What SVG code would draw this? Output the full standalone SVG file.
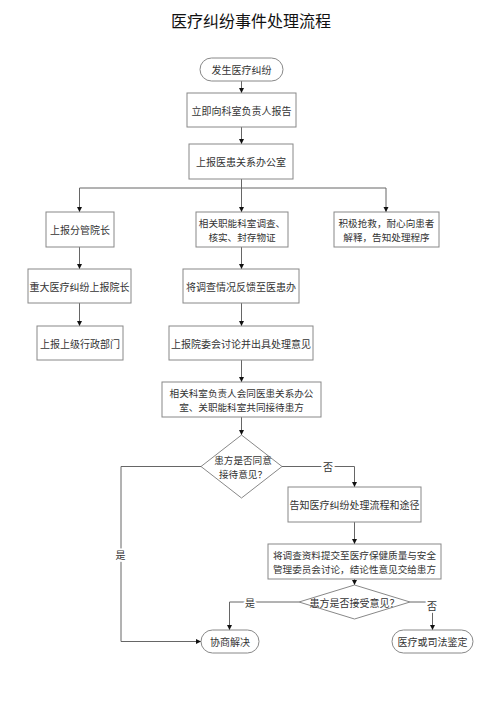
<svg xmlns="http://www.w3.org/2000/svg" width="500" height="707" viewBox="0 0 500 707">
<style>
text{font-family:"Noto Sans CJK SC","Noto Sans CJK JP",sans-serif;fill:#333;font-size:10px;text-anchor:middle;dominant-baseline:central}
text.two{font-size:9.6px}
.title{font-size:16px;fill:#111}
.box{fill:#fff;stroke:#888;stroke-width:1}
.ln{fill:none;stroke:#666;stroke-width:1}
.lbl{stroke:#fff;stroke-width:4;paint-order:stroke;stroke-linejoin:round}
</style>
<defs>
<marker id="ah" markerUnits="userSpaceOnUse" markerWidth="6" markerHeight="6" refX="5" refY="3" orient="auto">
<path d="M0,0.5 L5,3 L0,5.5 Z" fill="#111"/>
</marker>
</defs>
<rect width="500" height="707" fill="#fff"/>
<text class="title" x="251" y="20">医疗纠纷事件处理流程</text>

<g id="connectors">
<path class="ln" d="M241.5,81 V93" marker-end="url(#ah)"/>
<path class="ln" d="M241.5,127 V144" marker-end="url(#ah)"/>
<path class="ln" d="M241.5,179 V212" marker-end="url(#ah)"/>
<path class="ln" d="M79.5,188 H386 V212" marker-end="url(#ah)"/>
<path class="ln" d="M79.5,188 V212" marker-end="url(#ah)"/>
<path class="ln" d="M79.5,247 V269" marker-end="url(#ah)"/>
<path class="ln" d="M79.5,303 V326" marker-end="url(#ah)"/>
<path class="ln" d="M241.5,247 V269" marker-end="url(#ah)"/>
<path class="ln" d="M241.5,303 V326" marker-end="url(#ah)"/>
<path class="ln" d="M241.5,360 V382" marker-end="url(#ah)"/>
<path class="ln" d="M241.5,417 V435" marker-end="url(#ah)"/>
<path class="ln" d="M201,466.5 H121 V641.5 H201" marker-end="url(#ah)"/>
<path class="ln" d="M282,466.5 H354.5 V487" marker-end="url(#ah)"/>
<path class="ln" d="M354.5,522 V544" marker-end="url(#ah)"/>
<path class="ln" d="M354.5,579 V585" marker-end="url(#ah)"/>
<path class="ln" d="M299,602 H229.5 V630" marker-end="url(#ah)"/>
<path class="ln" d="M410,602 H432.5 V630" marker-end="url(#ah)"/>
<text class="lbl" x="120.5" y="554">是</text>
<text class="lbl" x="328" y="466.5">否</text>
<text class="lbl" x="250" y="602">是</text>
<text class="lbl" x="432" y="605">否</text>
</g>

<g id="start"><rect class="box" x="200" y="58" width="83" height="23" rx="11.5"/><text x="241.5" y="69.5">发生医疗纠纷</text></g>
<g id="report-dept"><rect class="box" x="187" y="93" width="109" height="34"/><text x="241.5" y="110">立即向科室负责人报告</text></g>
<g id="report-office"><rect class="box" x="189" y="144" width="104" height="35"/><text x="241" y="161.5">上报医患关系办公室</text></g>
<g id="report-vp"><rect class="box" x="46" y="212" width="68" height="35"/><text x="80" y="229.5">上报分管院长</text></g>
<g id="investigate"><rect class="box" x="196" y="212" width="92" height="35"/><text class="two" x="242" y="222.5">相关职能科室调查、</text><text class="two" x="242" y="236.5">核实、封存物证</text></g>
<g id="rescue"><rect class="box" x="334" y="212" width="105" height="35"/><text class="two" x="386.5" y="222.5">积极抢救，耐心向患者</text><text class="two" x="386.5" y="236.5">解释，告知处理程序</text></g>
<g id="report-president"><rect class="box" x="28" y="269" width="103" height="34"/><text x="79.5" y="286">重大医疗纠纷上报院长</text></g>
<g id="feedback"><rect class="box" x="183" y="269" width="116" height="34"/><text x="241" y="286">将调查情况反馈至医患办</text></g>
<g id="report-admin"><rect class="box" x="37" y="326" width="86" height="34"/><text x="80" y="343">上报上级行政部门</text></g>
<g id="committee"><rect class="box" x="169" y="326" width="144" height="34"/><text x="241" y="343">上报院委会讨论并出具处理意见</text></g>
<g id="receive"><rect class="box" x="162" y="382" width="159" height="35"/><text class="two" x="241.5" y="392.5">相关科室负责人会同医患关系办公</text><text class="two" x="241.5" y="406.5">室、关职能科室共同接待患方</text></g>
<g id="decision1"><polygon class="box" points="241.5,435 282,466.5 241.5,498 201,466.5"/><text class="two" x="243" y="459.5">患方是否同意</text><text class="two" x="243" y="473.5">接待意见？</text></g>
<g id="inform"><rect class="box" x="288" y="487" width="133" height="35"/><text x="354.5" y="504.5">告知医疗纠纷处理流程和途径</text></g>
<g id="submit"><rect class="box" x="268" y="544" width="173" height="35"/><text class="two" x="354.5" y="554.5">将调查资料提交至医疗保健质量与安全</text><text class="two" x="354.5" y="568.5">管理委员会讨论，结论性意见交给患方</text></g>
<g id="decision2"><polygon class="box" points="354.5,585 410,602 354.5,619 299,602"/><text x="354.5" y="602">患方是否接受意见？</text></g>
<g id="negotiate"><rect class="box" x="201" y="630" width="58" height="23" rx="11.5"/><text x="230" y="641.5">协商解决</text></g>
<g id="appraisal"><rect class="box" x="392" y="630" width="81" height="23" rx="11.5"/><text x="432.5" y="641.5">医疗或司法鉴定</text></g>
</svg>
